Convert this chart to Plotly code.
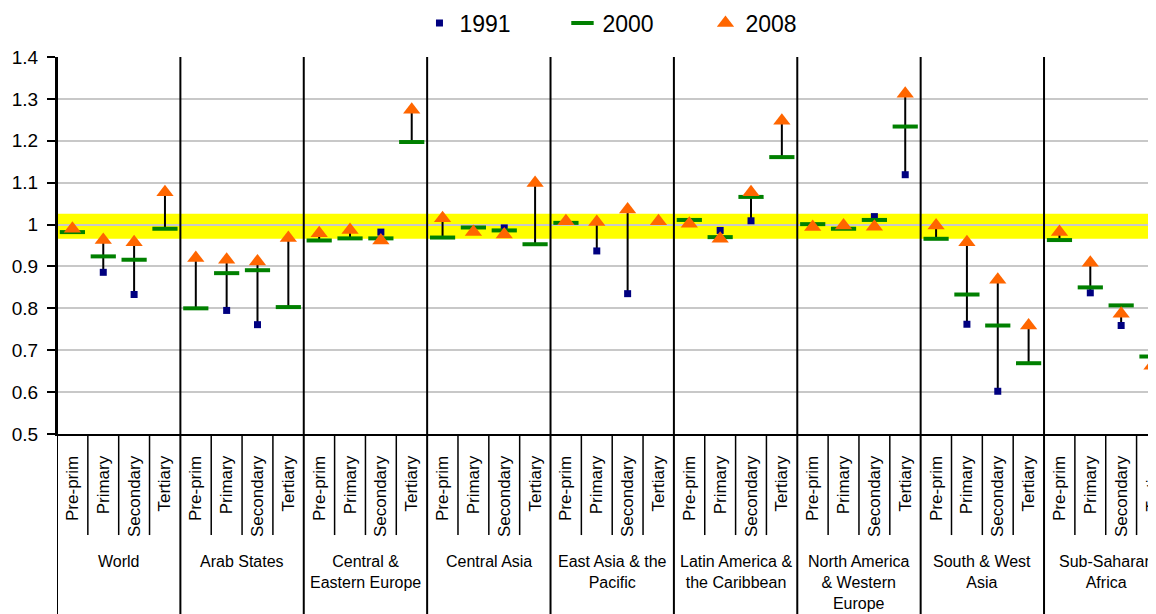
import plotly.graph_objects as go

regions = ["World", "Arab States", "Central &<br>Eastern Europe", "Central Asia",
           "East Asia & the<br>Pacific", "Latin America &<br>the Caribbean",
           "North America<br>& Western<br>Europe", "South & West<br>Asia",
           "Sub-Saharan<br>Africa"]
levels = ["Pre-prim", "Primary", "Secondary", "Tertiary"]

# Gender parity index values, 4 levels per region (Pre-prim, Primary, Secondary, Tertiary)
gpi_1991 = [None, 0.886, 0.833, None,
            None, 0.795, 0.761, None,
            None, None, 0.982, None,
            None, None, 0.992, None,
            None, 0.937, 0.835, None,
            None, 0.986, 1.009, None,
            None, None, 1.019, 1.119,
            None, 0.762, 0.602, None,
            None, 0.837, 0.759, None]
gpi_2000 = [0.982, 0.924, 0.916, 0.990,
            0.800, 0.884, 0.891, 0.803,
            0.962, 0.967, 0.967, 1.197,
            0.969, 0.993, 0.986, 0.953,
            1.004, None, None, None,
            1.011, 0.970, 1.066, 1.161,
            1.001, 0.990, 1.011, 1.234,
            0.966, 0.833, 0.759, 0.669,
            0.963, 0.850, 0.807, 0.685]
gpi_2008 = [0.990, 0.963, 0.958, 1.077,
            0.920, 0.916, 0.912, 0.968,
            0.979, 0.987, 0.962, 1.274,
            1.015, 0.982, 0.976, 1.099,
            1.008, 1.006, 1.036, 1.008,
            1.002, 0.966, 1.077, 1.248,
            0.994, 0.998, 0.995, 1.312,
            0.998, 0.958, 0.868, 0.759,
            0.982, 0.909, 0.787, 0.663]
parity_band = [0.966, 1.026]

FONT = "Liberation Sans, Arial, sans-serif"
n = len(regions) * len(levels)
xs = list(range(n))
ticktext = levels * len(regions)

# high-low connector lines
hx, hy = [], []
for i in xs:
    vals = [v for v in (gpi_1991[i], gpi_2000[i], gpi_2008[i]) if v is not None]
    if len(vals) >= 2:
        hx += [i, i, None]
        hy += [min(vals), max(vals), None]

fig = go.Figure()
fig.add_trace(go.Scatter(x=hx, y=hy, mode="lines", line=dict(color="black", width=2),
                         showlegend=False, hoverinfo="skip", cliponaxis=False))
fig.add_trace(go.Scatter(x=xs, y=gpi_1991, mode="markers", name="1991",
                         marker=dict(symbol="square", size=7, color="#000080")))
fig.add_trace(go.Scatter(x=xs, y=gpi_2000, mode="markers", name="2000",
                         marker=dict(symbol="line-ew", size=18, color="#008000",
                                     line=dict(color="#008000", width=4))))
fig.add_trace(go.Scatter(x=xs, y=gpi_2008, mode="markers", name="2008",
                         marker=dict(symbol="triangle-up", size=15, color="#FF6600")))

shapes = []
shapes.append(dict(type="rect", xref="paper", yref="y", x0=0, x1=1,
                   y0=parity_band[0], y1=parity_band[1], fillcolor="#FFFF00",
                   line=dict(width=0), layer="below"))
bottom = -0.48
for k in range(len(regions)):
    xb = 4 * k - 0.5
    shapes.append(dict(type="line", xref="x", yref="paper", x0=xb, x1=xb,
                       y0=bottom, y1=1, line=dict(color="black", width=2)))
    for j in range(1, 4):
        xi = 4 * k + j - 0.5
        shapes.append(dict(type="line", xref="x", yref="paper", x0=xi, x1=xi,
                           y0=-0.268, y1=0, line=dict(color="black", width=1.5)))

annotations = []
for k, r in enumerate(regions):
    annotations.append(dict(x=4 * k + 1.5, xref="x", y=-0.31, yref="paper",
                            yanchor="top", xanchor="center", text=r, showarrow=False,
                            font=dict(family=FONT, size=16, color="black")))

fig.update_layout(
    width=1148, height=606,
    margin=dict(l=49, r=0, t=49, b=180, autoexpand=False),
    paper_bgcolor="white", plot_bgcolor="white",
    font=dict(family=FONT, color="black"),
    shapes=shapes, annotations=annotations,
    legend=dict(orientation="h", x=0.525, xanchor="center", y=1.09, yanchor="middle",
                font=dict(family=FONT, size=23, color="black"),
                itemwidth=30, entrywidth=98, entrywidthmode="pixels"),
    xaxis=dict(range=[-0.5, 35.13], tickmode="array", tickvals=xs, ticktext=ticktext,
               tickangle=-90, ticks="", showgrid=False, zeroline=False,
               showline=True, linecolor="black", linewidth=2, automargin=False,
               ticklabeloverflow="allow",
               tickfont=dict(family=FONT, size=17, color="black"),
               ticklabelstandoff=13),
    yaxis=dict(range=[0.5, 1.4], dtick=0.1, tick0=0.5, showgrid=True,
               gridcolor="#C8C8C8", gridwidth=2, zeroline=False, automargin=False,
               showline=True, linecolor="black", linewidth=2,
               ticks="outside", ticklen=8, tickcolor="black", tickwidth=1.5,
               ticklabelstandoff=5,
               tickfont=dict(family=FONT, size=19, color="black")),
)

fig.write_html("out.html")
